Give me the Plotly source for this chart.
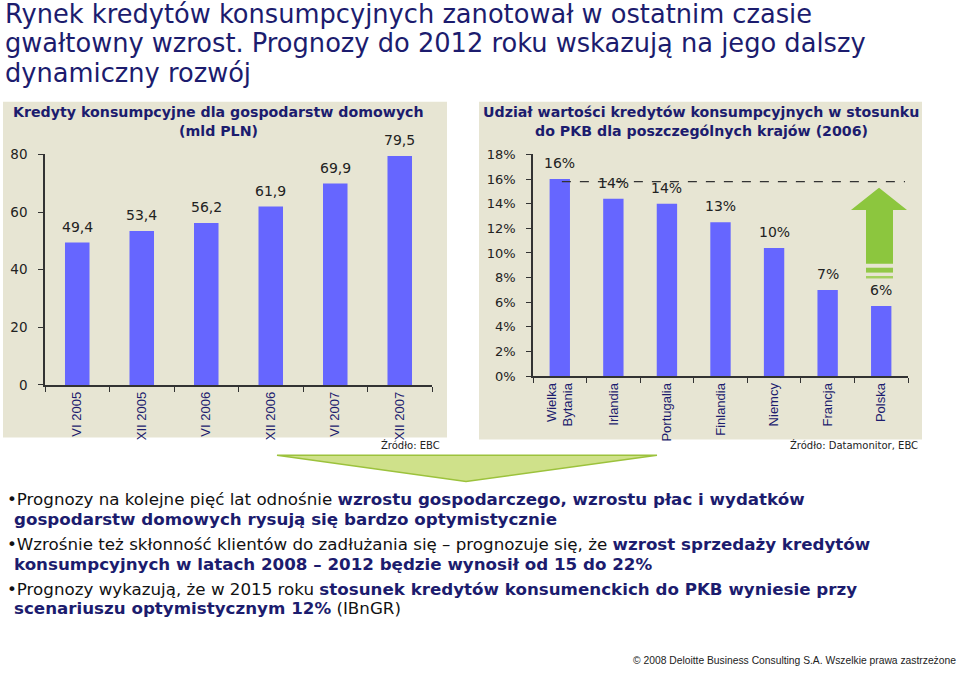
import plotly.graph_objects as go

# ---------------- data ----------------
periods = ["VI 2005", "XII 2005", "VI 2006", "XII 2006", "VI 2007", "XII 2007"]
credit_bln = [49.4, 53.4, 56.2, 61.9, 69.9, 79.5]

countries = ["Wielka<br>Bytania", "Irlandia", "Portugalia", "Finlandia", "Niemcy", "Francja", "Polska"]
share_gdp = [16.0, 14.4, 14.0, 12.5, 10.4, 7.0, 5.7]
share_labels = ["16%", "14%", "14%", "13%", "10%", "7%", "6%"]
ref_level = 15.8

left_ticks = [0, 20, 40, 60, 80]
right_ticks = [0, 2, 4, 6, 8, 10, 12, 14, 16, 18]
right_tick_text = [f"{t}%" for t in right_ticks]

title_lines = [
    "Rynek kredytów konsumpcyjnych zanotował w ostatnim czasie",
    "gwałtowny wzrost. Prognozy do 2012 roku wskazują na jego dalszy",
    "dynamiczny rozwój",
]

W, H = 960, 678
def px(x):
    return x / W
def py(y):
    return 1 - y / H

NAVY = "#1c1c6e"
BAR = "#6666ff"
PANEL = "#e7e5d3"
AX = "#333333"
FONT = "DejaVu Sans, Verdana, sans-serif"
NARROW = "Liberation Sans Narrow, Arial Narrow, Liberation Sans, Arial, sans-serif"

fig = go.Figure()

fig.add_trace(go.Bar(x=periods, y=credit_bln, marker=dict(color=BAR, line=dict(width=0)),
                     xaxis="x", yaxis="y", hoverinfo="skip"))
fig.add_trace(go.Bar(x=countries, y=share_gdp, marker=dict(color=BAR, line=dict(width=0)),
                     xaxis="x2", yaxis="y2", hoverinfo="skip"))

annotations = []
def note(x, y, text, size, color="#222222", family=FONT, xanchor="center", **kw):
    d = dict(x=px(x), y=py(y), xref="paper", yref="paper", text=text, showarrow=False,
             xanchor=xanchor, yanchor="middle", font=dict(family=family, size=size, color=color))
    d.update(kw)
    annotations.append(d)

# value labels
for p, v in zip(periods, credit_bln):
    annotations.append(dict(x=p, y=v, xref="x", yref="y", text=f"{v:.1f}".replace(".", ","),
                            showarrow=False, xanchor="center", yanchor="bottom", yshift=6,
                            font=dict(family=FONT, size=14, color="#222222")))
for c, v, lab in zip(countries, share_gdp, share_labels):
    annotations.append(dict(x=c, y=v, xref="x2", yref="y2", text=lab,
                            showarrow=False, xanchor="center", yanchor="bottom", yshift=6,
                            font=dict(family=FONT, size=14, color="#222222")))

# chart titles
note(218, 107, "<b>Kredyty konsumpcyjne dla gospodarstw domowych</b>", 14.2, NAVY)
note(218, 126, "<b>(mld PLN)</b>", 14.2, NAVY)
note(701, 107, "<b>Udział wartości kredytów konsumpcyjnych w stosunku</b>", 14.2, NAVY)
note(701, 126, "<b>do PKB dla poszczególnych krajów (2006)</b>", 14.2, NAVY)

# main title
for i, line in enumerate(title_lines):
    note(3, 6 + 30.2 * i, line, 25.7, NAVY, xanchor="left")

# sources
note(442, 448, "Źródło: EBC", 10, xanchor="right")
note(920, 448, "Źródło: Datamonitor, EBC", 10, xanchor="right")

def b(t):
    return f"<b><span style='color:{NAVY}'>{t}</span></b>"

bullet_lines = [
    (5, 503, "•Prognozy na kolejne pięć lat odnośnie " + b("wzrostu gospodarczego, wzrostu płac i wydatków")),
    (12, 523, b("gospodarstw domowych rysują się bardzo optymistycznie")),
    (5, 549, "•Wzrośnie też skłonność klientów do zadłużania się – prognozuje się, że " + b("wzrost sprzedaży kredytów")),
    (12, 569, b("konsumpcyjnych w latach 2008 – 2012 będzie wynosił od 15 do 22%")),
    (5, 595, "•Prognozy wykazują, że w 2015 roku " + b("stosunek kredytów konsumenckich do PKB wyniesie przy")),
    (12, 615, b("scenariuszu optymistycznym 12%") + " (IBnGR)"),
]
for x, y, t in bullet_lines:
    note(x, y, t, 16.7, "#111111", xanchor="left")

note(958, 668, "© 2008 Deloitte Business Consulting S.A. Wszelkie prawa zastrzeżone", 10.3,
     family="Liberation Sans, Arial, sans-serif", xanchor="right")

shapes = [
    dict(type="rect", xref="paper", yref="paper", x0=px(3), x1=px(447), y0=py(440), y1=py(96),
         fillcolor=PANEL, line=dict(width=0), layer="below"),
    dict(type="rect", xref="paper", yref="paper", x0=px(479), x1=px(922), y0=py(442), y1=py(96),
         fillcolor=PANEL, line=dict(width=0), layer="below"),
    # reference level line on the right chart
    dict(type="line", xref="x2 domain", yref="y2", x0=0.077, x1=0.992, y0=ref_level, y1=ref_level,
         line=dict(color=AX, width=1.3, dash="dash")),
]

def path(points):
    return "M " + " L ".join(f"{px(x):.5f},{py(y):.5f}" for x, y in points) + " Z"

# up arrow
shapes.append(dict(type="path", xref="paper", yref="paper",
                   path=path([(879, 184), (907, 207), (893, 207), (893, 262), (866, 262), (866, 207), (851, 207)]),
                   fillcolor="#8cc63e", line=dict(width=0)))
shapes.append(dict(type="rect", xref="paper", yref="paper", x0=px(866), x1=px(893), y0=py(271), y1=py(266),
                   fillcolor="#92c848", line=dict(width=0)))
shapes.append(dict(type="rect", xref="paper", yref="paper", x0=px(866), x1=px(893), y0=py(277), y1=py(274.5),
                   fillcolor="#a4d060", line=dict(width=0)))
# down triangle
shapes.append(dict(type="path", xref="paper", yref="paper",
                   path=path([(277, 458), (657, 458), (466, 485)]),
                   fillcolor="#cfe18a", line=dict(color="#9cc23c", width=1.5)))

axis_common = dict(showline=True, linecolor=AX, linewidth=1.5, ticks="outside", tickcolor=AX,
                   ticklen=5, showgrid=False, zeroline=False)

fig.update_layout(
    width=W, height=H, margin=dict(l=0, r=0, t=0, b=0),
    paper_bgcolor="white", plot_bgcolor="rgba(0,0,0,0)",
    showlegend=False, bargap=0.62,
    annotations=annotations, shapes=shapes,
    xaxis=dict(domain=[px(45), px(432)], anchor="y", type="category", tickson="boundaries",
               tickangle=-90, tickfont=dict(family=NARROW, size=13, color=NAVY), **axis_common),
    yaxis=dict(domain=[py(386), py(150)], anchor="x", range=[0, 80], tickvals=left_ticks,
               ticklabelstandoff=8,
               tickfont=dict(family=FONT, size=13.5, color="#222222"), **axis_common),
    xaxis2=dict(domain=[px(533), px(908)], anchor="y2", type="category", tickson="boundaries",
                tickangle=-90, tickfont=dict(family=NARROW, size=13, color=NAVY), **axis_common),
    yaxis2=dict(domain=[py(377), py(150)], anchor="x2", range=[0, 18], tickvals=right_ticks,
                ticktext=right_tick_text, ticklabelstandoff=8,
                tickfont=dict(family=FONT, size=13, color="#222222"),
                **axis_common),
)

fig.write_html("out.html")
